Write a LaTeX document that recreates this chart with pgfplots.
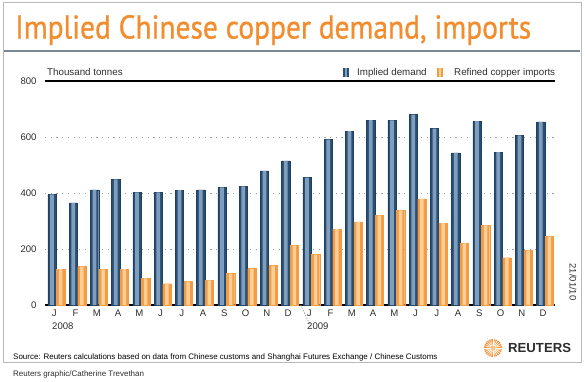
\documentclass[border=0pt]{standalone}
\usepackage{pgfplots}
\pgfplotsset{compat=1.18}
\usepackage{fontspec}
\setmainfont{Liberation Sans}
\newfontfamily\titlefont[FakeBold=0.9]{PT Sans}
\definecolor{titleorange}{RGB}{242,140,45}
\definecolor{bluedark}{RGB}{40,80,118}
\definecolor{bluelight}{RGB}{128,158,188}
\definecolor{orangedark}{RGB}{245,155,65}
\definecolor{orangelight}{RGB}{252,207,152}
\definecolor{txt}{RGB}{45,45,45}
\definecolor{rule}{RGB}{122,136,150}
\pgfplotstableread{
x demand imports
0 395 128
1 365 137
2 411 127
3 449 128
4 402 95
5 402 76
6 410 84
7 411 88
8 420 112
9 424 130
10 479 141
11 515 212
12 455 180
13 591 271
14 621 297
15 660 320
16 659 338
17 680 379
18 630 292
19 543 220
20 657 284
21 546 169
22 606 195
23 654 245
}\datatable
\begin{document}
\begin{tikzpicture}[x=1bp,y=1bp]
\path[use as bounding box] (0,0) rectangle (585,381);
% outer frame
\draw[gray!55, line width=0.8bp] (3,19) rectangle (581.5,378.5);
% title
\node[anchor=base west, inner sep=0, text=titleorange] at (15,342.5)
  {\resizebox{516bp}{\height}{\titlefont\fontsize{33}{36}\selectfont Implied Chinese copper demand, imports}};
\draw[rule, line width=1.2bp] (4,330) -- (580,330);
\begin{axis}[
  at={(45bp,76bp)}, anchor=south west,
  scale only axis, width=510bp, height=224bp,
  xmin=-0.532, xmax=23.47, ymin=0, ymax=800,
  clip=false,
  axis x line*=bottom, axis y line*=left,
  x axis line style={-, black, line width=1.1bp},
  y axis line style={draw=none},
  major tick length=0pt,
  ytick={0,200,400,600,800},
  ymajorgrids, grid style={dash pattern=on 1.2bp off 4.5bp, gray!75, line width=0.9bp},
  xtick={0,...,23},
  xticklabels={J,F,M,A,M,J,J,A,S,O,N,D,J,F,M,A,M,J,J,A,S,O,N,D},
  tick label style={font=\fontsize{9.6}{11}\selectfont, text=txt},
  /pgf/number format/assume math mode=true,
  yticklabel style={xshift=-5bp},
  xticklabel style={xshift=-2bp, yshift=-1bp},
]
\addplot[ybar, bar width=8.3bp, bar shift=-4.3bp, draw=bluedark!80!black, line width=0.3bp, fill=bluedark] table[x=x, y=demand] {\datatable};
\addplot[ybar, bar width=3.6bp, bar shift=-4.3bp, draw=none, fill=bluelight] table[x=x, y=demand] {\datatable};
\addplot[ybar, bar width=8.3bp, bar shift=4.3bp, draw=orangedark, line width=0.3bp, fill=orangedark] table[x=x, y=imports] {\datatable};
\addplot[ybar, bar width=3.6bp, bar shift=4.3bp, draw=none, fill=orangelight] table[x=x, y=imports] {\datatable};
\draw[black, line width=1.1bp] (axis cs:-0.532,800) -- (axis cs:23.47,800);
\draw[gray!80, dash pattern=on 1.2bp off 1.6bp, line width=0.8bp] (axis cs:11.5,0) -- ++(0,-24bp);
\end{axis}
% units and legend
\node[anchor=base west, inner sep=0, text=txt, font=\fontsize{9.8}{11}\selectfont] at (47,305.5) {Thousand tonnes};
\fill[bluedark] (342.5,304) rectangle (348.5,313.5);
\fill[bluelight] (344.5,304) rectangle (346.5,313.5);
\node[anchor=base west, inner sep=0, text=txt, font=\fontsize{9.8}{11}\selectfont] at (357,305.5) {Implied demand};
\fill[orangedark] (437,304) rectangle (443,313.5);
\fill[orangelight] (439,304) rectangle (441,313.5);
\node[anchor=base west, inner sep=0, text=txt, font=\fontsize{9.8}{11}\selectfont] at (454,305.5) {Refined copper imports};
% years
\node[anchor=base west, inner sep=0, text=txt, font=\fontsize{9.6}{11}\selectfont] at (52,52) {2008};
\node[anchor=base west, inner sep=0, text=txt, font=\fontsize{9.6}{11}\selectfont] at (307,52) {2009};
% date
\node[rotate=-90, inner sep=0, text=txt, font=\fontsize{9.5}{11}\selectfont] at (573,99) {21/01/10};
% source
\node[anchor=base west, inner sep=0, text=black, font=\fontsize{8}{10}\selectfont] at (13,22) {Source: Reuters calculations based on data from Chinese customs and Shanghai Futures Exchange / Chinese Customs};
\node[anchor=base west, inner sep=0, text=txt, font=\fontsize{8}{10}\selectfont] at (13,5) {Reuters graphic/Catherine Trevethan};
% logo
\shade[inner color=orangelight, outer color=titleorange] (493,33) circle (9);
\foreach \a in {0,15,...,345} {\draw[white, line width=0.5bp] (493,33) ++(\a:2.5) -- ++(\a:6.5);}
\node[anchor=west, inner sep=0, text=txt, font=\fontsize{13.2}{15}\selectfont\bfseries] at (508,33) {REUTERS};
\end{tikzpicture}
\end{document}
